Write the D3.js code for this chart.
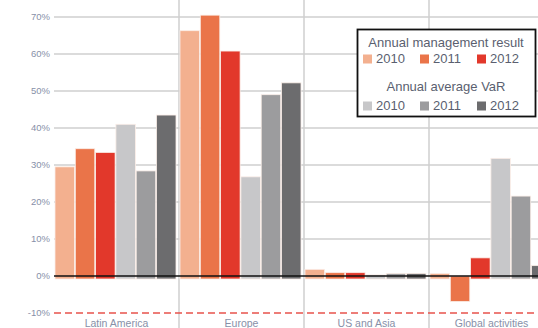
<!DOCTYPE html>
<html lang="en">
<head>
<meta charset="utf-8">
<script src="https://d3js.org/d3.v7.min.js"></script>
<style>
  body { margin: 0; background: #fff; }
  svg { display: block; font-family: "Liberation Sans Narrow", "Liberation Sans", Arial, sans-serif; }
</style>
</head>
<body>
<svg id="chart" width="538" height="328"></svg>
<script>
// data (percent)
const regions = ["Latin America", "Europe", "US and Asia", "Global activities"];
const seriesNames = ["Result 2010", "Result 2011", "Result 2012", "VaR 2010", "VaR 2011", "VaR 2012"];
const result2010 = [29.5, 66.3, 1.8, 0.7];
const result2011 = [34.4, 70.5, 0.9, -6.9];
const result2012 = [33.4, 60.8, 0.9, 4.9];
const var2010 = [41.0, 26.8, 0.3, 31.8];
const var2011 = [28.4, 49.0, 0.7, 21.6];
const var2012 = [43.5, 52.2, 0.7, 2.8];
const yTicks = [-10, 0, 10, 20, 30, 40, 50, 60, 70];
const years = ["2010", "2011", "2012"];

const colors = ["#f3b08f", "#ea7449", "#e2382b", "#c7c7c9", "#9c9c9e", "#6c6c6e"];
const allSeries = [result2010, result2011, result2012, var2010, var2011, var2012];

const svg = d3.select("#chart");
const W = 538;

const y = d3.scaleLinear().domain([-10, 70]).range([313, 17]);
const x = d3.scaleBand().domain(regions).range([54, 554]);
const xi = d3.scaleBand().domain(seriesNames).range([1, 122]).paddingInner(0.04);
const base = 3; // positive bars reach a little below the zero line

// horizontal grid
svg.append("g").selectAll("line")
  .data(yTicks.filter(d => d > 0))
  .join("line")
  .attr("x1", 54).attr("x2", W)
  .attr("y1", d => y(d)).attr("y2", d => y(d))
  .attr("stroke", "#cfcfcf").attr("stroke-width", 1.5);

// vertical separators
svg.append("g").selectAll("line")
  .data(regions.slice(1))
  .join("line")
  .attr("x1", d => x(d)).attr("x2", d => x(d))
  .attr("y1", 0).attr("y2", 328)
  .attr("stroke", "#cfcfcf").attr("stroke-width", 1.5);

// y tick labels
svg.append("g").selectAll("text")
  .data(yTicks)
  .join("text")
  .attr("x", 50).attr("y", d => y(d))
  .attr("dy", "0.35em")
  .attr("text-anchor", "end")
  .attr("fill", "#8790a8")
  .attr("font-size", 9.5)
  .text(d => d + "%");

// bars
const rows = regions.map((r, i) => ({ region: r, vals: allSeries.map(s => s[i]) }));
svg.append("g").selectAll("g")
  .data(rows)
  .join("g")
  .attr("transform", d => `translate(${x(d.region)},0)`)
  .selectAll("rect")
  .data(d => d.vals.map((v, k) => ({ key: seriesNames[k], v, k })))
  .join("rect")
  .attr("x", d => xi(d.key))
  .attr("width", xi.bandwidth())
  .attr("y", d => y(Math.max(0, d.v)))
  .attr("height", d => d.v >= 0 ? y(0) - y(d.v) + base : y(d.v) - y(0))
  .attr("fill", d => colors[d.k])
  .attr("stroke", "#fbeee8")
  .attr("stroke-width", 0.8);

// zero line
svg.append("line")
  .attr("x1", 54).attr("x2", W)
  .attr("y1", y(0)).attr("y2", y(0))
  .attr("stroke", "#111").attr("stroke-width", 1.5);

// -10% dashed line
svg.append("line")
  .attr("x1", 54).attr("x2", W)
  .attr("y1", y(-10)).attr("y2", y(-10))
  .attr("stroke", "#e8534c").attr("stroke-width", 1.5)
  .attr("stroke-dasharray", "7,4");

// category labels
svg.append("g").selectAll("text")
  .data(regions)
  .join("text")
  .attr("x", d => x(d) + x.bandwidth() / 2)
  .attr("y", 327)
  .attr("text-anchor", "middle")
  .attr("fill", "#8790a8")
  .attr("font-size", 10.5)
  .text(d => d);

// legend
const lg = svg.append("g");
lg.append("rect")
  .attr("x", 357.5).attr("y", 29.5).attr("width", 178).attr("height", 87)
  .attr("fill", "#fff").attr("stroke", "#111").attr("stroke-width", 1.8);

const legendText = "#5a5f70";
const blocks = [
  { title: "Annual management result", ty: 47, ry: 63, cols: colors.slice(0, 3) },
  { title: "Annual average VaR", ty: 91, ry: 110, cols: colors.slice(3) }
];
blocks.forEach(b => {
  lg.append("text")
    .attr("x", 446).attr("y", b.ty)
    .attr("text-anchor", "middle")
    .attr("fill", legendText).attr("font-size", 13)
    .text(b.title);
  years.forEach((yr, i) => {
    const x0 = 363 + i * 57;
    lg.append("rect")
      .attr("x", x0).attr("y", b.ry - 8.5)
      .attr("width", 9).attr("height", 9)
      .attr("fill", b.cols[i]);
    lg.append("text")
      .attr("x", x0 + 13).attr("y", b.ry)
      .attr("fill", legendText).attr("font-size", 13)
      .text(yr);
  });
});
</script>
</body>
</html>
